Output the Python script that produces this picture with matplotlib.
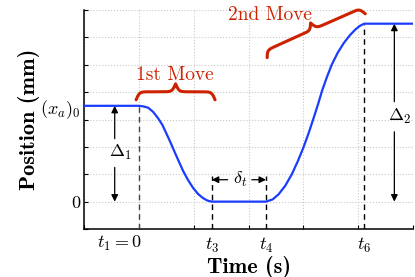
import matplotlib.pyplot as plt
import numpy as np

# 数据
t_data = [-1.0, 0.0, 0.08, 0.17, 0.26, 0.35, 0.43, 0.50, 0.58, 0.66, 0.74, 0.81,
          0.90, 0.99, 1.08, 1.17, 1.25, 1.33,
          2.32, 2.44, 2.55, 2.67, 2.79, 2.90, 3.00, 3.10, 3.19, 3.27, 3.34,
          3.43, 3.52, 3.63, 3.74, 3.85, 3.95, 4.03, 4.11, 5.0]
pos_data = [3.5, 3.5, 3.48, 3.43, 3.28, 3.05, 2.80, 2.50, 2.15, 1.78, 1.42, 1.11,
            0.78, 0.50, 0.28, 0.13, 0.04, 0.0,
            0.0, 0.08, 0.27, 0.58, 1.00, 1.48, 1.97, 2.52, 3.07, 3.57, 4.04,
            4.55, 5.01, 5.45, 5.80, 6.08, 6.29, 6.42, 6.5, 6.5]

t_marks = [0.0, 1.33, 2.32, 4.11]
t_labels = [r'$t_1 = 0$', r'$t_3$', r'$t_4$', r'$t_6$']
x_start = 3.5
x_end = 6.5
y_ticks = [0.0, x_start]
y_labels = [r'$0$', r'$(x_a)_0$']

red = '#cc2200'
blue = '#1a3cff'

plt.rcParams['mathtext.fontset'] = 'cm'
plt.rcParams['font.family'] = 'cmr10'
plt.rcParams['axes.formatter.use_mathtext'] = True

fig = plt.figure(figsize=(4.15, 2.77), dpi=100)
ax = fig.add_axes([84 / 415, 1 - 229 / 277, (413 - 84) / 415, (229 - 10) / 277])
ax.set_xlim(-1, 5)
ax.set_ylim(-1, 7)

# 坐标轴
for s in ['top', 'right']:
    ax.spines[s].set_visible(False)
for s in ['left', 'bottom']:
    ax.spines[s].set_linewidth(1.1)

ax.set_xticks(t_marks[1:])
ax.set_xticklabels(t_labels[1:], fontsize=13)
ax.set_yticks(y_ticks)
ax.set_yticklabels(y_labels, fontsize=13)
ax.set_xticks(np.arange(-1, 6), minor=True)
ax.set_yticks(np.arange(-1, 8), minor=True)
ax.xaxis.remove_overlapping_locs = False
ax.yaxis.remove_overlapping_locs = False
ax.tick_params(which='major', length=0)
ax.tick_params(axis='x', which='major', pad=5)
ax.tick_params(axis='y', which='major', pad=2)
ax.tick_params(which='minor', direction='in', length=3, width=0.8)
ax.grid(which='minor', linestyle=':', color='#c8c8c8', linewidth=0.8)
ax.grid(which='major', visible=False)

# t1 = 0 标签（右对齐到刻度）
ax.text(t_marks[0] + 0.06, -1.18, t_labels[0], fontsize=13, ha='right', va='top')

ax.set_xlabel('Time (s)', fontfamily='cmb10', fontsize=16, labelpad=0.5)
ax.set_ylabel('Position (mm)', fontfamily='cmb10', fontsize=16, labelpad=0)

# 位置曲线
ax.plot(t_data, pos_data, color=blue, lw=1.6, zorder=5)

# 虚线
dash = dict(color='k', lw=1.0, linestyle=(0, (4, 3)), zorder=4)
ax.plot([t_marks[0]] * 2, [-1, x_start], **{**dash, 'color': '#444444'})
ax.plot([t_marks[1]] * 2, [-1, 0.95], **dash)
ax.plot([t_marks[2]] * 2, [-1, 0.95], **dash)
ax.plot([t_marks[3]] * 2, [-1, x_end], **dash)

# 箭头
arr = dict(arrowstyle='-|>', color='k', lw=0.9, mutation_scale=10, shrinkA=0, shrinkB=0)
xa = -0.44
ax.annotate('', xy=(xa, x_start), xytext=(xa, 2.3), arrowprops=arr)
ax.annotate('', xy=(xa, 0), xytext=(xa, 1.25), arrowprops=arr)
ax.text(xa + 0.1, 1.78, r'$\Delta_1$', fontsize=13, ha='center', va='center')

xb = 4.66
ax.annotate('', xy=(xb, x_end), xytext=(xb, 3.65), arrowprops=arr)
ax.annotate('', xy=(xb, 0), xytext=(xb, 2.55), arrowprops=arr)
ax.text(xb + 0.1, 3.1, r'$\Delta_2$', fontsize=13, ha='center', va='center')

ym = 0.8
ax.annotate('', xy=(t_marks[1], ym), xytext=(1.62, ym), arrowprops=arr)
ax.annotate('', xy=(t_marks[2], ym), xytext=(2.06, ym), arrowprops=arr)
ax.text(1.84, ym, r'$\delta_t$', fontsize=13, ha='center', va='center')


# 花括号
def brace(p1, p2, h, beta=0.6):
    a = ax.transData.transform(p1)
    b = ax.transData.transform(p2)
    d = b - a
    L = np.hypot(*d)
    e = d / L
    nrm = np.array([-e[1], e[0]])
    u = np.linspace(0, L / 2, 200)
    v = 1 / (1 + np.exp(-beta * u)) + 1 / (1 + np.exp(-beta * (u - L / 2))) - 0.5
    uu = np.concatenate([u, L - u[::-1]])
    vv = np.concatenate([v, v[::-1]]) * h
    pts = a + np.outer(uu, e) + np.outer(vv, nrm)
    pts = ax.transData.inverted().transform(pts)
    ax.plot(pts[:, 0], pts[:, 1], color=red, lw=2.2, solid_capstyle='round', clip_on=False)


brace((-0.05, 3.72), (1.39, 3.72), 16)
brace((2.34, 5.26), (4.13, 6.86), 14)
ax.text(0.66, 4.63, '1st Move', color=red, fontsize=14, ha='center', va='center')
ax.text(2.39, 6.82, '2nd Move', color=red, fontsize=14, ha='center', va='center')

fig.savefig('out.png', dpi=100)
